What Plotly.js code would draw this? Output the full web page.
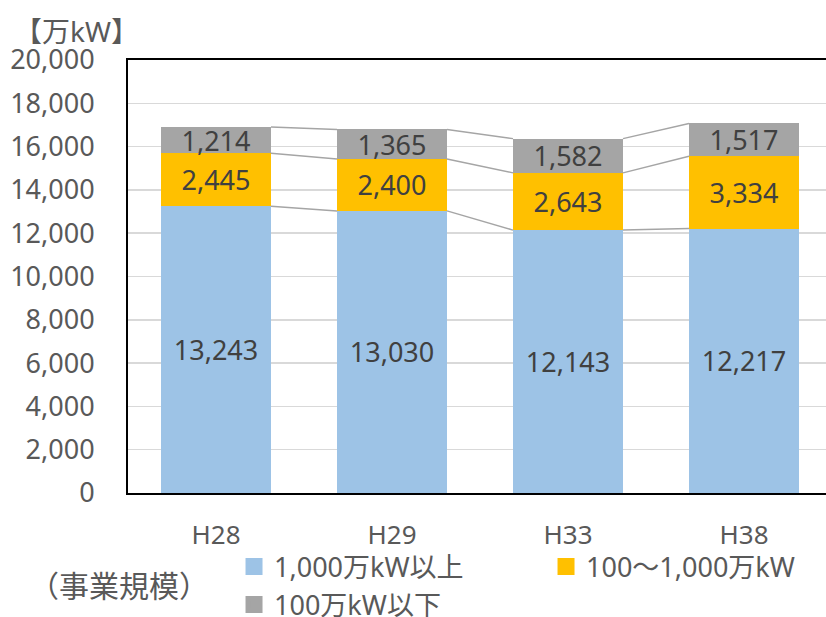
<!DOCTYPE html>
<html>
<head>
<meta charset="utf-8">
<script src="https://cdn.plot.ly/plotly-3.0.1.min.js"></script>
<style>
html,body{margin:0;padding:0;overflow:hidden;background:#fff;}
#chart{width:900px;height:617px;}
</style>
</head>
<body>
<div id="chart"></div>
<script>
const categories = ["H28", "H29", "H33", "H38"];
const seriesNames = ["1,000万kW以上", "100〜1,000万kW", "100万kW以下"];
const large = [13243, 13030, 12143, 12217];
const medium = [2445, 2400, 2643, 3334];
const small = [1214, 1365, 1582, 1517];
const colors = ["#9dc3e6", "#ffc000", "#a5a5a5"];
const yTickVals = [0, 2000, 4000, 6000, 8000, 10000, 12000, 14000, 16000, 18000, 20000];

const FONT = "Noto Sans, Noto Sans CJK JP, sans-serif";
const xs = categories.map((c, i) => i);
const BW = 0.625;
const series = [large, medium, small];

const traces = [];
series.forEach((vals, k) => {
  traces.push({
    type: "bar", x: xs, y: vals, width: BW, name: seriesNames[k],
    marker: {color: colors[k], line: {width: 0}},
    text: vals.map(v => v.toLocaleString("en-US")),
    textposition: "inside", insidetextanchor: "middle", textangle: 0,
    constraintext: "none",
    textfont: {family: FONT, size: 27, color: "#404040"},
    hoverinfo: "skip", showlegend: false, cliponaxis: false
  });
});

// series lines connecting stacked segment tops
const cum = [];
let run = xs.map(() => 0);
series.forEach(vals => { run = run.map((r, i) => r + vals[i]); cum.push(run.slice()); });
cum.forEach(level => {
  const lx = [], ly = [];
  for (let i = 0; i < xs.length - 1; i++) {
    lx.push(xs[i] + BW / 2, xs[i + 1] - BW / 2, null);
    ly.push(level[i], level[i + 1], null);
  }
  traces.push({type: "scatter", mode: "lines", x: lx, y: ly,
    line: {color: "#a5a5a5", width: 1.5}, hoverinfo: "skip", showlegend: false});
});

// legend entries
series.forEach((vals, k) => {
  traces.push({type: "bar", x: [null], y: [null], name: seriesNames[k],
    marker: {color: colors[k], line: {color: colors[k], width: 5}}, showlegend: true});
});

const layout = {
  width: 900, height: 617,
  margin: {l: 128, r: 68, t: 60, b: 124},
  paper_bgcolor: "#fff", plot_bgcolor: "#fff",
  barmode: "stack",
  font: {family: FONT, color: "#595959"},
  xaxis: {
    range: [-0.5, 3.5], tickvals: xs, ticktext: categories,
    showgrid: false, zeroline: false, ticks: "",
    showline: true, linecolor: "#000", linewidth: 2, mirror: true,
    tickfont: {family: FONT, size: 26, color: "#595959"},
    ticklabelstandoff: 18, fixedrange: true
  },
  yaxis: {
    range: [0, 20000], tickvals: yTickVals, tickformat: ",d",
    showgrid: true, gridcolor: "#d9d9d9", gridwidth: 1.5, zeroline: false, ticks: "",
    showline: true, linecolor: "#000", linewidth: 2, mirror: true,
    tickfont: {family: FONT, size: 27, color: "#595959"},
    ticklabelstandoff: 26, fixedrange: true
  },
  legend: {
    orientation: "h", x: 0.1506, xanchor: "left", yref: "container", y: 0.121, yanchor: "top",
    entrywidth: 267, traceorder: "normal", bgcolor: "rgba(0,0,0,0)",
    font: {family: FONT, size: 27, color: "#595959"}, itemclick: false
  },
  annotations: [
    {text: "【万kW】", xref: "paper", yref: "paper", x: -0.165, y: 1.068, xanchor: "left", yanchor: "middle",
     showarrow: false, font: {family: FONT, size: 28, color: "#595959"}},
    {text: "（事業規模）", xref: "paper", yref: "paper", x: -0.1435, y: -0.2125, xanchor: "left", yanchor: "middle",
     showarrow: false, font: {family: FONT, size: 30, color: "#595959"}}
  ],
  showlegend: true
};

Plotly.newPlot("chart", traces, layout, {displayModeBar: false, staticPlot: true});
</script>
</body>
</html>
